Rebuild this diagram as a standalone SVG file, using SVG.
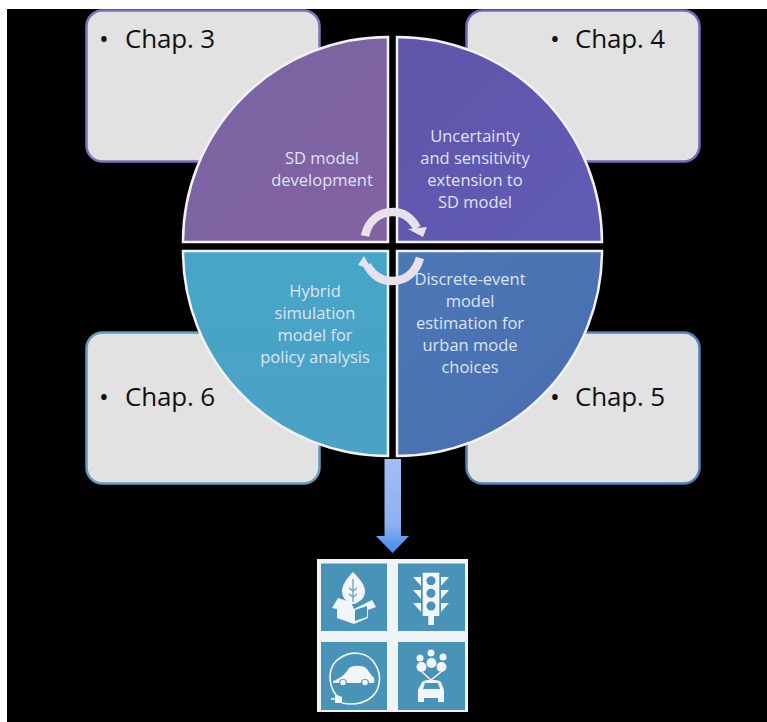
<svg xmlns="http://www.w3.org/2000/svg" width="767" height="722" viewBox="0 0 767 722">
<style>
.box{fill:#e2e2e2;stroke-width:2.5}
.q{stroke:#f2f2f6;stroke-width:2.5}
.lbl{font-family:"Open Sans","Liberation Sans",sans-serif;font-size:16.5px;fill:#dfe3f6;text-anchor:middle}
.chap{font-family:"Open Sans","Liberation Sans",sans-serif;font-size:26px;fill:#111}
.tile{fill:#4a93b8}
.w{fill:#f2f6f8}
.wl{fill:none;stroke:#f2f6f8;stroke-width:1.6}
.arc{fill:none;stroke:#e8e0ea;stroke-width:8.5}
</style>
<defs>
<linearGradient id="gTL" x1="0" y1="0" x2="1" y2="1"><stop offset="0" stop-color="#7a64a2"/><stop offset="1" stop-color="#8262a2"/></linearGradient>
<linearGradient id="gTR" x1="0" y1="0" x2="1" y2="1"><stop offset="0" stop-color="#5f55a8"/><stop offset="1" stop-color="#625cb6"/></linearGradient>
<linearGradient id="gBL" x1="0" y1="0" x2="0" y2="1"><stop offset="0" stop-color="#46a6c8"/><stop offset="1" stop-color="#4ba2c6"/></linearGradient>
<linearGradient id="gBR" x1="0" y1="0" x2="1" y2="1"><stop offset="0" stop-color="#4b78b6"/><stop offset="1" stop-color="#4a6cb0"/></linearGradient>
<linearGradient id="gA" x1="0" y1="0" x2="0" y2="1"><stop offset="0" stop-color="#a3bdf4"/><stop offset="0.7" stop-color="#8cb0f2"/><stop offset="1" stop-color="#3f8cee"/></linearGradient>
</defs>
<rect x="0" y="0" width="767" height="722" fill="#fff"/>
<rect x="7" y="9" width="760" height="713" fill="#000"/>

<g id="box-chap3"><rect class="box" x="86.500" y="10.500" width="233" height="151" rx="16" stroke="#8272bc"/><text class="chap" x="99" y="48">•</text><text class="chap" x="125" y="48" textLength="90">Chap. 3</text></g>
<g id="box-chap4"><rect class="box" x="466.500" y="10.500" width="233" height="151" rx="16" stroke="#7468c0"/><text class="chap" x="550" y="48">•</text><text class="chap" x="575" y="48" textLength="90">Chap. 4</text></g>
<g id="box-chap6"><rect class="box" x="86.500" y="332.500" width="233" height="151" rx="16" stroke="#5f9cc0"/><text class="chap" x="99" y="406">•</text><text class="chap" x="125" y="406" textLength="90">Chap. 6</text></g>
<g id="box-chap5"><rect class="box" x="466.500" y="332.500" width="233" height="151" rx="16" stroke="#5580b8"/><text class="chap" x="550" y="406">•</text><text class="chap" x="575" y="406" textLength="90">Chap. 5</text></g>

<g id="quad-sd"><path class="q" fill="url(#gTL)" d="M388 242H183A205 205 0 0 1 388 37Z"/><text class="lbl"><tspan x="322" y="164">SD model</tspan><tspan x="322" y="186">development</tspan></text></g>
<g id="quad-uncertainty"><path class="q" fill="url(#gTR)" d="M397 242V37A205 205 0 0 1 602 242Z"/><text class="lbl"><tspan x="475" y="142">Uncertainty</tspan><tspan x="475" y="164">and sensitivity</tspan><tspan x="475" y="186">extension to</tspan><tspan x="475" y="208">SD model</tspan></text></g>
<g id="quad-hybrid"><path class="q" fill="url(#gBL)" d="M388 251V456A205 205 0 0 1 183 251Z"/><text class="lbl"><tspan x="315" y="297">Hybrid</tspan><tspan x="315" y="319">simulation</tspan><tspan x="315" y="341">model for</tspan><tspan x="315" y="363">policy analysis</tspan></text></g>
<g id="quad-discrete"><path class="q" fill="url(#gBR)" d="M397 251H602A205 205 0 0 1 397 456Z"/><text class="lbl"><tspan x="470" y="285">Discrete-event</tspan><tspan x="470" y="307">model</tspan><tspan x="470" y="329">estimation for</tspan><tspan x="470" y="351">urban mode</tspan><tspan x="470" y="373">choices</tspan></text></g>

<g id="connectors">
<path class="arc" d="M365 236C368 221 379 212 393 212C404 212 412 219 417 228"/>
<path fill="#e8e0ea" d="M408 229L427 227L423 237Z"/>
<path class="arc" d="M420 258C416 272 406 281 392 281C380 281 372 274 367 265"/>
<path fill="#e8e0ea" d="M358 265L364 256L372 270Z"/>
<path fill="url(#gA)" d="M384.500 459H401V536H409L392.500 553L376 536H384.500Z"/>
</g>

<g id="icon-panel">
<rect x="317" y="559" width="151" height="153" fill="#f0f4f6"/>
<rect class="tile" x="321" y="563.500" width="66" height="67.500"/>
<rect class="tile" x="398" y="563.500" width="67" height="67.500"/>
<rect class="tile" x="321" y="642" width="66" height="68"/>
<rect class="tile" x="398" y="642" width="67" height="68"/>
</g>
<g id="icon-box">
<path class="w" d="M353 572C347 578 342 585 342 591C342 598 347 602 352 604H354C360 602 365 598 365 591C365 585 359 578 353 572Z"/>
<path d="M353 579V602M349 588L353 591L357 588M349 594L353 597L357 594" fill="none" stroke="#6ea6c4" stroke-width="1.400"/>
<path class="w" d="M332 608L338 598L351 602L354 609L372 600L376 607L368 610V618L354 624L337 618V609Z"/>
<path class="tile" d="M355 610L367 606V617L355 621Z"/>
</g>
<g id="icon-light">
<rect class="w" x="422.700" y="572.700" width="16.600" height="43.300"/>
<rect class="w" x="428.300" y="616" width="5.700" height="9"/>
<circle class="tile" cx="431" cy="580.700" r="4.500"/><circle class="tile" cx="431" cy="593.300" r="4.500"/><circle class="tile" cx="431" cy="606" r="4.500"/>
<path class="w" d="M413 577H421V586ZM413 590H421V599ZM413 603H421V612ZM449 577H441V586ZM449 590H441V599ZM449 603H441V612Z"/>
</g>
<g id="icon-car">
<path class="wl" d="M336 695C327 683 328 665 340 658C352 650 368 652 375 664C383 676 380 692 369 699C361 704 351 705 342 703"/>
<path class="w" d="M333 681C340 678 344 676 349 668C353 665 364 665 367 669L372 676C374 677 375 679 374 683H369A4 4 0 0 0 361 683H347A4 4 0 0 0 339 683H333Z"/>
<circle class="w" cx="343" cy="682.500" r="2.800"/><circle class="w" cx="365" cy="682.500" r="2.800"/>
<path class="w" d="M335 694L342 697V703L335 703Z"/>
<path class="wl" d="M337 699H331"/>
</g>
<g id="icon-people">
<circle class="w" cx="420" cy="658" r="3.500"/><circle class="w" cx="431" cy="653" r="3.500"/><circle class="w" cx="443" cy="657" r="3.500"/>
<circle class="w" cx="421.500" cy="667" r="5"/><circle class="w" cx="431.500" cy="663" r="5"/><circle class="w" cx="441.500" cy="667" r="5"/>
<path class="wl" d="M422 672L431 680L441 672"/>
<path class="w" d="M418 702V690L422 682C426 679 437 679 441 682L444 690V702H438V698H424V702Z"/>
<path class="tile" d="M423 689L425 683H438L440 689Z"/>
</g>
</svg>
